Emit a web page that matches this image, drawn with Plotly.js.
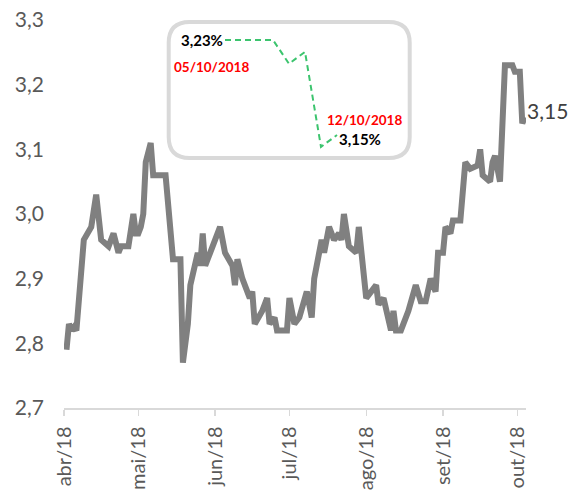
<!DOCTYPE html>
<html>
<head>
<meta charset="utf-8">
<script src="https://cdn.plot.ly/plotly-3.0.1.min.js"></script>
<style>
html,body{margin:0;padding:0;background:#fff;}
#chart{width:568px;height:491px;}
</style>
</head>
<body>
<div id="chart"></div>
<script>
// ---- main series (daily yield, %) ----
const dates = [
 '2018-04-02','2018-04-03','2018-04-04','2018-04-05','2018-04-06','2018-04-09','2018-04-12','2018-04-14',
 '2018-04-16','2018-04-19','2018-04-21','2018-04-23','2018-04-24','2018-04-27','2018-04-29','2018-04-30',
 '2018-05-01','2018-05-02','2018-05-03','2018-05-04','2018-05-06','2018-05-07','2018-05-12','2018-05-15',
 '2018-05-18','2018-05-19','2018-05-21','2018-05-22','2018-05-25','2018-05-26','2018-05-27','2018-05-28',
 '2018-05-29','2018-06-01','2018-06-03','2018-06-05','2018-06-08','2018-06-09','2018-06-10','2018-06-12',
 '2018-06-15','2018-06-16','2018-06-17','2018-06-20','2018-06-22','2018-06-23','2018-06-25','2018-06-26',
 '2018-06-30','2018-07-01','2018-07-03','2018-07-05','2018-07-08','2018-07-10','2018-07-11','2018-07-14',
 '2018-07-15','2018-07-17','2018-07-19','2018-07-21','2018-07-22','2018-07-23','2018-07-25','2018-07-28',
 '2018-07-29','2018-08-01','2018-08-03','2018-08-05','2018-08-06','2018-08-08','2018-08-11','2018-08-12',
 '2018-08-13','2018-08-15','2018-08-18','2018-08-21','2018-08-23','2018-08-25','2018-08-27','2018-08-29',
 '2018-08-30','2018-09-01','2018-09-02','2018-09-04','2018-09-05','2018-09-08','2018-09-10','2018-09-12',
 '2018-09-15','2018-09-16','2018-09-17','2018-09-20','2018-09-21','2018-09-22','2018-09-24','2018-09-26',
 '2018-09-29','2018-09-30','2018-10-02','2018-10-03','2018-10-04'
];
const yields = [
 2.79,2.83,2.82,2.825,2.82,2.96,2.98,3.03,
 2.96,2.95,2.97,2.94,2.95,2.95,3.00,2.97,
 2.97,2.98,3.00,3.08,3.11,3.06,3.06,2.93,
 2.93,2.77,2.83,2.89,2.94,2.92,2.97,2.92,
 2.93,2.96,2.98,2.94,2.92,2.89,2.93,2.90,
 2.87,2.88,2.83,2.85,2.87,2.83,2.84,2.82,
 2.82,2.87,2.83,2.84,2.88,2.84,2.90,2.96,
 2.94,2.98,2.96,2.97,2.96,3.00,2.95,2.94,
 2.98,2.87,2.88,2.89,2.86,2.87,2.82,2.85,
 2.82,2.82,2.85,2.89,2.865,2.865,2.90,2.88,
 2.94,2.94,2.98,2.97,2.99,2.99,3.08,3.07,
 3.075,3.10,3.06,3.05,3.08,3.09,3.05,3.23,
 3.23,3.22,3.22,3.14,3.15
];

// ---- axis ticks ----
const tickDates  = ['2018-04-01','2018-05-01','2018-06-01','2018-07-01','2018-08-01','2018-09-01','2018-10-01'];
const tickLabels = ['abr/18','mai/18','jun/18','jul/18','ago/18','set/18','out/18'];
const yTicks = [2.7,2.8,2.9,3.0,3.1,3.2,3.3];

// ---- inset series (last week) ----
const insetDates  = ['2018-10-05','2018-10-08','2018-10-09','2018-10-10','2018-10-11','2018-10-12'];
const insetYields = [3.23,3.23,3.21,3.22,3.14,3.15];

// ---- layout geometry helpers (pixel -> paper) ----
const W = 568, H = 491;
const mL = 64, mR = 42, mT = 20, mB = 83;
const pw = W - mL - mR, ph = H - mT - mB;
const PX = px => (px - mL) / pw;
const PY = py => (H - mB - py) / ph;

function roundRect(l, t, r, b, rad) {
  const f = (x, y) => PX(x) + ',' + PY(y);
  return 'M' + f(l + rad, t) + ' L' + f(r - rad, t) + ' Q' + f(r, t) + ' ' + f(r, t + rad) +
         ' L' + f(r, b - rad) + ' Q' + f(r, b) + ' ' + f(r - rad, b) +
         ' L' + f(l + rad, b) + ' Q' + f(l, b) + ' ' + f(l, b - rad) +
         ' L' + f(l, t + rad) + ' Q' + f(l, t) + ' ' + f(l + rad, t) + ' Z';
}

const fmtNum = (v, d) => v.toFixed(d).replace('.', ',');
const fmtDate = s => { const p = s.split('-'); return p[2] + '/' + p[1] + '/' + p[0]; };

const FONT = 'Lato, "Open Sans", sans-serif';
const gray = '#595959';

const traces = [
  {
    x: dates, y: yields, type: 'scatter', mode: 'lines',
    line: {color: '#808080', width: 6},
    xaxis: 'x', yaxis: 'y', hoverinfo: 'skip'
  },
  {
    x: insetDates, y: insetYields, type: 'scatter', mode: 'lines',
    line: {color: '#3cc46e', width: 2, dash: '6px,4px'},
    xaxis: 'x2', yaxis: 'y2', hoverinfo: 'skip'
  }
];

const lastI = yields.length - 1;
const layout = {
  width: W, height: H,
  margin: {l: mL, r: mR, t: mT, b: mB, pad: 0},
  paper_bgcolor: '#ffffff', plot_bgcolor: '#ffffff',
  separators: ', ',
  showlegend: false,
  font: {family: FONT, size: 21, color: gray},
  xaxis: {
    type: 'date', range: ['2018-04-01', '2018-10-04 12:00'],
    tickmode: 'array', tickvals: tickDates, ticktext: tickLabels,
    tickangle: -90, ticks: 'outside', ticklen: 6, tickwidth: 1.3, tickcolor: '#d9d9d9',
    showline: true, linecolor: '#d9d9d9', linewidth: 1.5,
    showgrid: false, zeroline: false, ticklabelstandoff: 3,
    tickfont: {family: FONT, size: 20, color: gray}
  },
  yaxis: {
    range: [2.7, 3.3], tickmode: 'array', tickvals: yTicks,
    ticktext: yTicks.map(v => fmtNum(v, 1)),
    showline: false, showgrid: false, zeroline: false, ticks: '',
    ticklabelstandoff: 19,
    tickfont: {family: FONT, size: 21, color: gray}
  },
  xaxis2: {
    type: 'date', domain: [PX(209), PX(353)], range: ['2018-10-04', '2018-10-13'],
    anchor: 'y2', visible: false
  },
  yaxis2: {
    domain: [PY(158.75), PY(28.1)], range: [3.13, 3.24],
    anchor: 'x2', visible: false
  },
  shapes: [
    {type: 'path', xref: 'paper', yref: 'paper', path: roundRect(168.7, 22, 409.7, 158, 21),
     line: {color: '#d9d9d9', width: 4}, fillcolor: 'rgba(0,0,0,0)', layer: 'above'}
  ],
  annotations: [
    {xref: 'x', yref: 'y', x: dates[lastI], y: yields[lastI], text: fmtNum(yields[lastI], 2),
     showarrow: false, xanchor: 'left', yanchor: 'middle', xshift: 0, yshift: 7,
     font: {family: FONT, size: 21, color: '#404040'}},
    {xref: 'x2', yref: 'y2', x: insetDates[0], y: insetYields[0], text: '<b>' + fmtNum(insetYields[0], 2) + '%</b>',
     showarrow: false, xanchor: 'right', yanchor: 'middle', xshift: 0, yshift: 0,
     font: {family: FONT, size: 15, color: '#000000'}},
    {xref: 'x2', yref: 'y2', x: insetDates[insetDates.length - 1], y: insetYields[insetYields.length - 1],
     text: '<b>' + fmtNum(insetYields[insetYields.length - 1], 2) + '%</b>',
     showarrow: false, xanchor: 'left', yanchor: 'middle', xshift: 0, yshift: -4,
     font: {family: FONT, size: 15, color: '#000000'}},
    {xref: 'paper', yref: 'paper', x: PX(211.5), y: PY(66.7), text: '<b>' + fmtDate(insetDates[0]) + '</b>',
     showarrow: false, xanchor: 'center', yanchor: 'middle',
     font: {family: FONT, size: 13.5, color: '#ff0000'}},
    {xref: 'paper', yref: 'paper', x: PX(364.5), y: PY(120), text: '<b>' + fmtDate(insetDates[insetDates.length - 1]) + '</b>',
     showarrow: false, xanchor: 'center', yanchor: 'middle',
     font: {family: FONT, size: 13.5, color: '#ff0000'}}
  ]
};

Plotly.newPlot('chart', traces, layout, {displayModeBar: false, staticPlot: true});
</script>
</body>
</html>
